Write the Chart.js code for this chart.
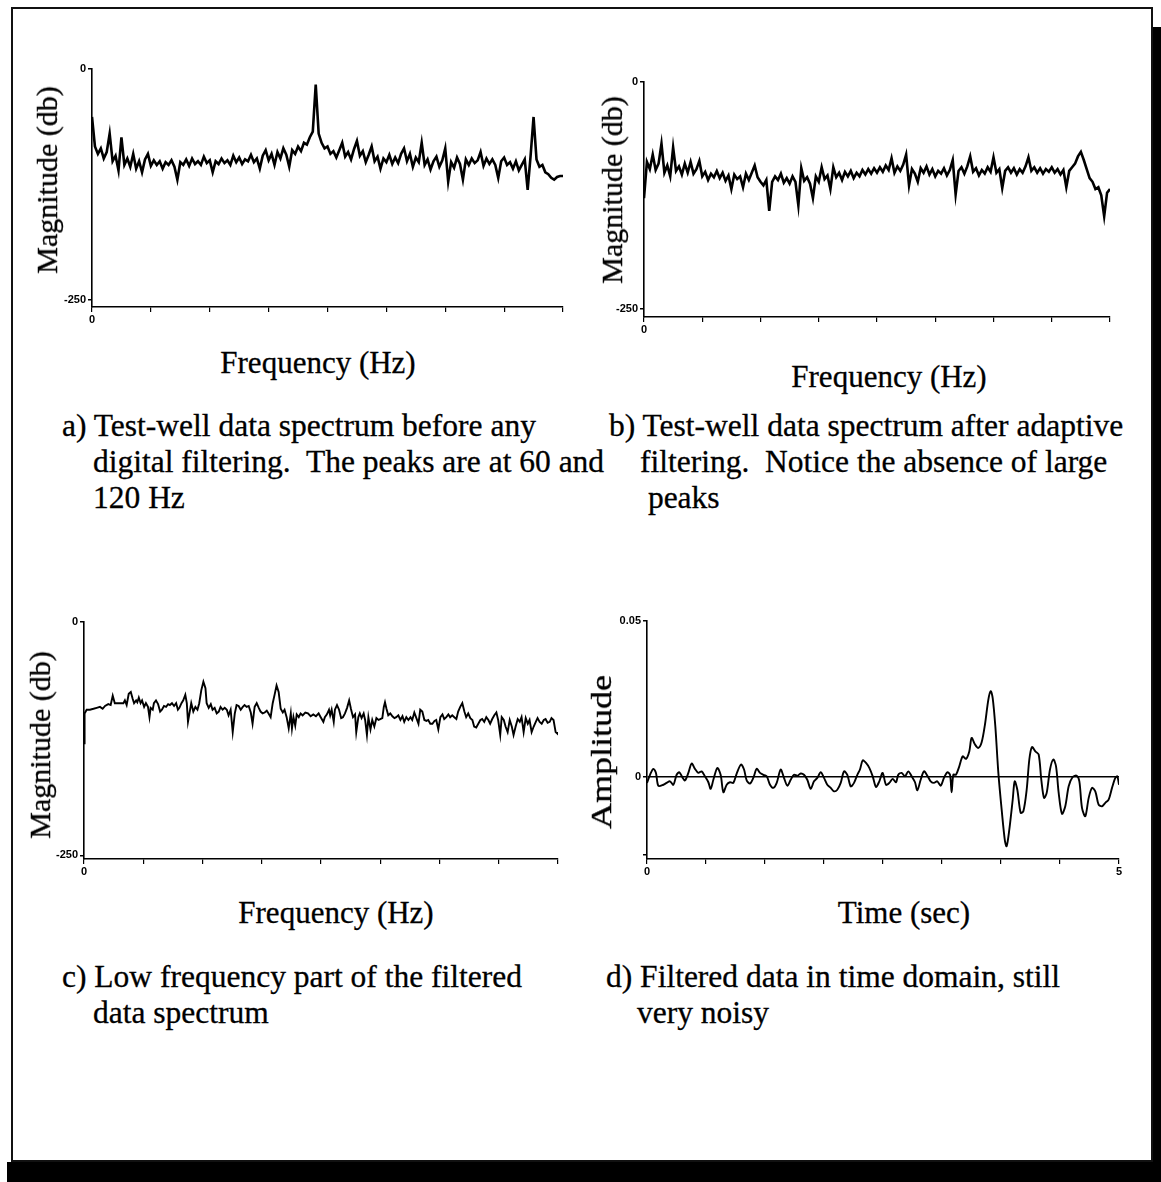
<!DOCTYPE html>
<html>
<head>
<meta charset="utf-8">
<title>Test-well spectra</title>
<script src="https://cdn.jsdelivr.net/npm/chart.js@4.4.1/dist/chart.umd.min.js"></script>
<style>
  body { margin: 0; background: #fff; width: 1161px; height: 1182px; position: relative; overflow: hidden;
         font-family: "Liberation Serif", "Times New Roman", serif; color: #000; }
  .frame { position: absolute; left: 11px; top: 7px; width: 1138px; height: 1151px; border: 2px solid #111; }
  .shadow { position: absolute; background: #000; }
  canvas { position: absolute; }
  .cap { position: absolute; font-size: 31.5px; line-height: 36px; white-space: pre; padding-left: 31px; text-indent: -31px;
         -webkit-text-stroke: 0.3px #000; }
  .xt { position: absolute; font-size: 31px; line-height: 1; white-space: nowrap; transform: translate(-50%, -50%);
        -webkit-text-stroke: 0.3px #000; }
  .yt { position: absolute; font-size: 30px; line-height: 1; white-space: nowrap; transform: translate(-50%, -50%) rotate(-90deg);
        -webkit-text-stroke: 0.3px #000; }
</style>
</head>
<body>
<div class="frame"></div>
<div class="shadow" style="left:1153px; top:27px; width:8px; height:1155px;"></div>
<div class="shadow" style="left:7px; top:1162px; width:1154px; height:20px;"></div>

<canvas id="chartA"></canvas>
<canvas id="chartB"></canvas>
<canvas id="chartC"></canvas>
<canvas id="chartD"></canvas>

<div class="yt" style="left:47px; top:180px;">Magnitude (db)</div>
<div class="xt" style="left:318px; top:362px;">Frequency (Hz)</div>
<div class="yt" style="left:612px; top:190px;">Magnitude (db)</div>
<div class="xt" style="left:889px; top:376px;">Frequency (Hz)</div>
<div class="yt" style="left:40px; top:745px;">Magnitude (db)</div>
<div class="xt" style="left:336px; top:912px;">Frequency (Hz)</div>
<div class="yt" style="left:601px; top:752px; transform: translate(-50%, -50%) rotate(-90deg) scaleX(1.2);">Amplitude</div>
<div class="xt" style="left:904px; top:912px;">Time (sec)</div>

<div class="cap" style="left:62px; top:408px;">a) Test-well data spectrum before any<br>digital filtering.  The peaks are at 60 and<br>120 Hz</div>
<div class="cap" style="left:609px; top:408px;">b) Test-well data spectrum after adaptive<br>filtering.  Notice the absence of large<br> peaks</div>
<div class="cap" style="left:62px; top:959px;">c) Low frequency part of the filtered<br>data spectrum</div>
<div class="cap" style="left:606px; top:959px;">d) Filtered data in time domain, still<br>very noisy</div>

<script>
// spectrum bins (Hz) for panels a and b
const freqStepAB = 0.8;
const freqTicksAB = [0, 16, 32, 48, 64, 80, 96, 112, 128];

// a) before filtering (db)
const magA = [
  -52, -84, -92, -86, -97, -90, -70, -100, -94, -110,
  -74, -104, -97, -106, -92, -108, -100, -112, -98, -92,
  -105, -99, -104, -100, -108, -101, -104, -99, -106, -120,
  -101, -104, -98, -105, -97, -103, -100, -104, -95, -102,
  -99, -112, -100, -103, -97, -102, -99, -104, -94, -101,
  -96, -103, -98, -100, -93, -101, -97, -108, -94, -88,
  -99, -92, -104, -90, -97, -86, -93, -106, -88, -92,
  -84, -89, -80, -82, -74, -68, -17, -70, -80, -86,
  -84, -92, -89, -96, -88, -80, -95, -90, -98, -87,
  -78, -94, -89, -101, -93, -84, -100, -95, -108, -97,
  -101, -93, -103, -96, -102, -92, -86, -100, -92, -106,
  -96, -101, -80, -104, -98, -109, -100, -95, -106, -99,
  -86, -122, -101, -107, -96, -103, -120, -98, -104, -97,
  -102, -99, -90, -105, -97, -103, -98, -104, -118, -100,
  -96, -104, -101, -108, -100, -110, -104, -98, -131, -94,
  -52, -98, -106, -104, -112, -114, -118, -120, -117, -116,
  -116
];

// b) after adaptive filtering (db)
const magB = [
  -128, -88, -96, -80, -97, -90, -68, -100, -92, -104,
  -72, -98, -93, -102, -90, -100, -88, -101, -96, -87,
  -104, -99, -108, -101, -105, -98, -106, -100, -109, -103,
  -118, -102, -107, -104, -116, -101, -108, -100, -92, -105,
  -110, -114, -108, -142, -110, -104, -108, -101, -111, -106,
  -112, -104, -110, -136, -95, -109, -105, -112, -128, -104,
  -110, -94, -107, -103, -118, -94, -105, -100, -108, -99,
  -104, -98, -106, -100, -104, -97, -102, -96, -101, -95,
  -100, -94, -99, -92, -97, -84, -100, -93, -98, -91,
  -80, -114, -96, -101, -110, -95, -100, -93, -102, -96,
  -104, -98, -101, -95, -103, -97, -86, -124, -98, -94,
  -101, -93, -82, -99, -95, -103, -97, -101, -94, -99,
  -83, -100, -96, -117, -98, -94, -100, -95, -102, -96,
  -100, -93, -83, -98, -94, -100, -95, -101, -96, -99,
  -94, -100, -96, -102, -97, -116, -98, -94, -90, -82,
  -77, -86, -96, -106, -110, -118, -116, -125, -148, -122,
  -118
];

// c) low frequency part of the filtered spectrum
const freqTicksC = [0, 2, 4, 6, 8, 10, 12, 14, 16];
const freqC = [
  0, 0.02, 0.09, 0.20, 0.32, 0.43, 0.54, 0.63, 0.71, 0.82,
  0.90, 0.97, 1.04, 1.13, 1.24, 1.33, 1.38, 1.44, 1.51, 1.58,
  1.64, 1.69, 1.76, 1.80, 1.85, 1.91, 1.96, 2.03, 2.09, 2.16,
  2.21, 2.25, 2.32, 2.36, 2.43, 2.50, 2.57, 2.63, 2.70, 2.77,
  2.84, 2.90, 2.97, 3.04, 3.11, 3.17, 3.22, 3.29, 3.35, 3.42,
  3.47, 3.51, 3.56, 3.62, 3.69, 3.76, 3.83, 3.89, 3.96, 4.03,
  4.10, 4.14, 4.21, 4.28, 4.34, 4.41, 4.48, 4.55, 4.61, 4.68,
  4.75, 4.82, 4.88, 4.95, 5.02, 5.09, 5.15, 5.22, 5.29, 5.36,
  5.42, 5.49, 5.56, 5.63, 5.69, 5.76, 5.83, 5.90, 5.96, 6.03,
  6.10, 6.17, 6.23, 6.30, 6.37, 6.44, 6.50, 6.57, 6.64, 6.71,
  6.77, 6.84, 6.91, 6.98, 7.02, 7.07, 7.13, 7.18, 7.25, 7.31,
  7.38, 7.47, 7.56, 7.65, 7.74, 7.83, 7.92, 7.99, 8.08, 8.13,
  8.20, 8.27, 8.31, 8.36, 8.43, 8.47, 8.54, 8.61, 8.68, 8.74,
  8.81, 8.88, 8.95, 9.01, 9.08, 9.15, 9.19, 9.26, 9.31, 9.37,
  9.44, 9.49, 9.55, 9.60, 9.67, 9.73, 9.80, 9.87, 9.94, 10.00,
  10.07, 10.12, 10.16, 10.21, 10.27, 10.34, 10.41, 10.48, 10.54, 10.61,
  10.68, 10.75, 10.81, 10.88, 10.95, 11.02, 11.08, 11.15, 11.22, 11.29,
  11.35, 11.42, 11.49, 11.56, 11.62, 11.69, 11.76, 11.83, 11.89, 11.96,
  12.03, 12.10, 12.16, 12.23, 12.30, 12.36, 12.43, 12.50, 12.57, 12.63,
  12.70, 12.77, 12.84, 12.90, 12.97, 13.04, 13.11, 13.17, 13.24, 13.31,
  13.38, 13.44, 13.51, 13.58, 13.65, 13.71, 13.78, 13.85, 13.92, 13.98,
  14.05, 14.10, 14.17, 14.23, 14.30, 14.37, 14.44, 14.50, 14.57, 14.64,
  14.71, 14.77, 14.84, 14.91, 14.98, 15.04, 15.11, 15.18, 15.25, 15.31,
  15.38, 15.45, 15.52, 15.58, 15.65, 15.72, 15.78, 15.85, 15.92, 15.99,
  16.00
];
const magC = [
  -130, -98, -94, -94, -93, -92, -91, -93, -90, -88,
  -89, -79, -87, -87, -87, -87, -84, -89, -77, -75,
  -82, -87, -84, -86, -81, -87, -84, -91, -87, -91,
  -102, -92, -94, -87, -84, -88, -96, -94, -90, -91,
  -88, -89, -87, -90, -87, -94, -92, -87, -84, -78,
  -87, -107, -98, -87, -96, -91, -94, -87, -73, -64,
  -71, -87, -92, -88, -94, -92, -98, -96, -91, -94,
  -92, -94, -100, -94, -118, -98, -89, -90, -94, -91,
  -89, -91, -90, -97, -109, -91, -87, -92, -96, -98,
  -97, -95, -98, -102, -87, -77, -68, -75, -93, -97,
  -94, -102, -114, -98, -114, -102, -111, -99, -102, -98,
  -100, -97, -98, -101, -99, -101, -98, -102, -107, -102,
  -99, -94, -100, -94, -107, -94, -89, -94, -103, -102,
  -98, -92, -84, -93, -102, -99, -118, -102, -98, -103,
  -98, -105, -121, -102, -115, -105, -112, -103, -105, -104,
  -103, -91, -86, -93, -100, -98, -101, -103, -102, -100,
  -105, -101, -107, -102, -105, -102, -105, -97, -103, -109,
  -94, -96, -105, -106, -105, -109, -109, -106, -105, -115,
  -102, -99, -104, -102, -99, -102, -100, -102, -104, -96,
  -91, -87, -96, -102, -98, -103, -105, -112, -113, -109,
  -105, -104, -107, -102, -105, -109, -104, -100, -97, -105,
  -121, -102, -105, -112, -118, -105, -112, -121, -112, -104,
  -107, -102, -118, -103, -109, -105, -118, -112, -107, -103,
  -107, -109, -105, -104, -108, -107, -103, -105, -118, -120,
  -118
];

// d) filtered data in the time domain
const timeTicksD = [0, 0.625, 1.25, 1.875, 2.5, 3.125, 3.75, 4.375, 5];
const timeD = [
  0.000, 0.032, 0.067, 0.095, 0.120, 0.173, 0.208, 0.244, 0.279, 0.314,
  0.343, 0.378, 0.403, 0.438, 0.473, 0.508, 0.544, 0.579, 0.614, 0.650,
  0.674, 0.703, 0.745, 0.780, 0.809, 0.844, 0.879, 0.915, 0.950, 0.996,
  1.028, 1.056, 1.091, 1.126, 1.162, 1.197, 1.232, 1.268, 1.303, 1.338,
  1.374, 1.416, 1.451, 1.487, 1.522, 1.557, 1.593, 1.628, 1.663, 1.698,
  1.734, 1.769, 1.804, 1.840, 1.875, 1.910, 1.946, 1.981, 2.016, 2.052,
  2.087, 2.122, 2.158, 2.193, 2.228, 2.256, 2.285, 2.320, 2.355, 2.391,
  2.426, 2.461, 2.496, 2.532, 2.567, 2.602, 2.638, 2.662, 2.698, 2.733,
  2.768, 2.804, 2.839, 2.864, 2.899, 2.934, 2.970, 3.005, 3.040, 3.075,
  3.111, 3.146, 3.181, 3.210, 3.227, 3.245, 3.273, 3.308, 3.344, 3.379,
  3.414, 3.439, 3.475, 3.510, 3.545, 3.580, 3.616, 3.641, 3.662, 3.690,
  3.722, 3.757, 3.792, 3.810, 3.838, 3.874, 3.895, 3.923, 3.958, 3.987,
  4.022, 4.050, 4.078, 4.114, 4.149, 4.177, 4.206, 4.234, 4.269, 4.304,
  4.333, 4.361, 4.396, 4.431, 4.467, 4.509, 4.552, 4.580, 4.608, 4.643,
  4.679, 4.714, 4.749, 4.784, 4.820, 4.855, 4.890, 4.926, 4.961, 4.982,
  5.000
];
// amplitude in thousandths
const ampMilliD = [
  -1.9, 0.7, 2.6, 1.3, -2.8, -2.5, -1.9, -1.4, -2.5, 0.7,
  1.5, -0.3, -1.1, 1.3, 4.3, 2.6, 1.3, 1.8, 0.2, -1.7,
  -3.8, -0.9, 2.9, 0.7, -4.9, -2.5, -1.7, -1.9, 1.1, 4.0,
  2.4, -1.1, -2.1, -0.3, 2.6, 1.3, 0.7, 0.2, -2.5, -3.5,
  -1.9, 2.4, -0.3, -2.8, -0.9, 0.7, 0.4, 1.1, 0.7, -0.9,
  -3.8, -1.4, -0.3, 1.5, -0.3, -2.5, -3.5, -4.6, -4.1, -1.9,
  1.8, 0.7, -3.0, -1.9, 0.7, 2.4, 5.3, 4.5, 2.9, 0.2,
  -3.2, -1.4, 1.3, -2.5, -1.9, -0.6, -1.7, 0.7, 1.3, 0.2,
  1.8, 0.2, -1.7, -4.3, -0.9, 1.8, 0.4, -1.4, -1.9, -1.4,
  -2.8, -0.3, 1.5, 0.7, -4.9, 0.7, 0.7, 3.4, 6.6, 5.8,
  8.2, 12.5, 10.4, 9.3, 11.1, 16.8, 24.8, 27.5, 25.3, 16.2,
  1.3, -10.5, -20.6, -22.2, -16.9, -7.3, -1.4, -4.1, -11.5, -11.0,
  -4.1, 5.6, 9.6, 8.2, 7.2, -0.9, -6.7, -5.1, 2.4, 5.6,
  3.4, -5.1, -11.8, -9.4, -3.0, 0.0, 0.4, -1.4, -9.9, -12.6,
  -6.7, -3.5, -4.6, -8.9, -9.4, -8.3, -7.3, -3.5, -0.3, 0.2,
  -2.5
];

// tick labels
const magTicks = [-250, 0];
const magTickLabels = ['-250', '0'];
const ampTicks = [-0.025, 0, 0.05];
const ampTickLabels = ['', '0', '0.05'];
const freqTickLabels = ['0', '', '', '', '', '', '', '', ''];
const timeTickLabels = ['0', '', '', '', '', '', '', '', '5'];

const ink = '#000';
const tickFont = { family: "'Liberation Sans', Arial, sans-serif", size: 11, weight: 'bold' };

function makePanel(id, p) {
  const yw = 40, xh = 24, padTop = 12, padRight = 14;
  const x0 = p.left - yw;
  const y0 = p.top - padTop;
  const w = p.right + padRight - x0;
  const h = p.bottom + xh - y0;
  const canvas = document.getElementById(id);
  canvas.width = w;
  canvas.height = h;
  canvas.style.left = x0 + 'px';
  canvas.style.top = y0 + 'px';
  canvas.style.width = w + 'px';
  canvas.style.height = h + 'px';

  new Chart(canvas, {
    type: 'line',
    data: {
      datasets: [{
        data: p.points,
        borderColor: ink,
        borderWidth: p.lineWidth,
        pointRadius: 0,
        tension: p.tension,
        fill: false
      }]
    },
    options: {
      responsive: false,
      animation: false,
      devicePixelRatio: 1,
      layout: { padding: { left: 0, top: padTop, right: padRight, bottom: 0 } },
      plugins: { legend: { display: false }, tooltip: { enabled: false } },
      scales: {
        x: {
          type: 'linear',
          min: p.xTicks[0],
          max: p.xTicks[p.xTicks.length - 1],
          afterFit: (s) => { s.height = xh; },
          afterBuildTicks: (s) => { s.ticks = p.xTicks.map((v) => ({ value: v })); },
          ticks: {
            autoSkip: false, maxRotation: 0, padding: 1, color: ink, font: tickFont,
            callback: (v, i) => p.xLabels[i]
          },
          grid: { drawOnChartArea: false, drawTicks: true, tickLength: 5, color: ink, lineWidth: 1.2 },
          border: { display: true, color: ink, width: 1.6 }
        },
        y: {
          type: 'linear',
          min: p.yMin,
          max: p.yMax,
          afterFit: (s) => { s.width = yw; },
          afterBuildTicks: (s) => { s.ticks = p.yTicks.map((v) => ({ value: v })); },
          ticks: {
            autoSkip: false, padding: 2, color: ink, font: tickFont,
            callback: (v, i) => p.yLabels[i]
          },
          grid: {
            drawOnChartArea: p.zeroLine,
            drawTicks: true,
            tickLength: 4,
            tickColor: ink,
            lineWidth: 1.5,
            color: (ctx) => (p.zeroLine && ctx.tick && ctx.tick.value === 0) ? ink : 'rgba(0,0,0,0)'
          },
          border: { display: true, color: ink, width: 1.6 }
        }
      }
    }
  });
}

makePanel('chartA', {
  left: 92, right: 563, top: 69, bottom: 307,
  yMin: -258, yMax: 0, yTicks: magTicks, yLabels: magTickLabels,
  xTicks: freqTicksAB, xLabels: freqTickLabels,
  points: magA.map((v, i) => ({ x: i * freqStepAB, y: v })),
  lineWidth: 2.6, tension: 0, zeroLine: false
});

makePanel('chartB', {
  left: 644, right: 1110, top: 82, bottom: 317,
  yMin: -259, yMax: 0, yTicks: magTicks, yLabels: magTickLabels,
  xTicks: freqTicksAB, xLabels: freqTickLabels,
  points: magB.map((v, i) => ({ x: i * freqStepAB, y: v })),
  lineWidth: 2.6, tension: 0, zeroLine: false
});

makePanel('chartC', {
  left: 84, right: 558, top: 622, bottom: 859,
  yMin: -254, yMax: 0, yTicks: magTicks, yLabels: magTickLabels,
  xTicks: freqTicksC, xLabels: freqTickLabels,
  points: freqC.map((f, i) => ({ x: f, y: magC[i] })),
  lineWidth: 1.9, tension: 0, zeroLine: false
});

makePanel('chartD', {
  left: 647, right: 1119, top: 621, bottom: 859,
  yMin: -0.0263, yMax: 0.05, yTicks: ampTicks, yLabels: ampTickLabels,
  xTicks: timeTicksD, xLabels: timeTickLabels,
  points: timeD.map((t, i) => ({ x: t, y: ampMilliD[i] / 1000 })),
  lineWidth: 1.9, tension: 0.3, zeroLine: true
});
</script>
</body>
</html>
